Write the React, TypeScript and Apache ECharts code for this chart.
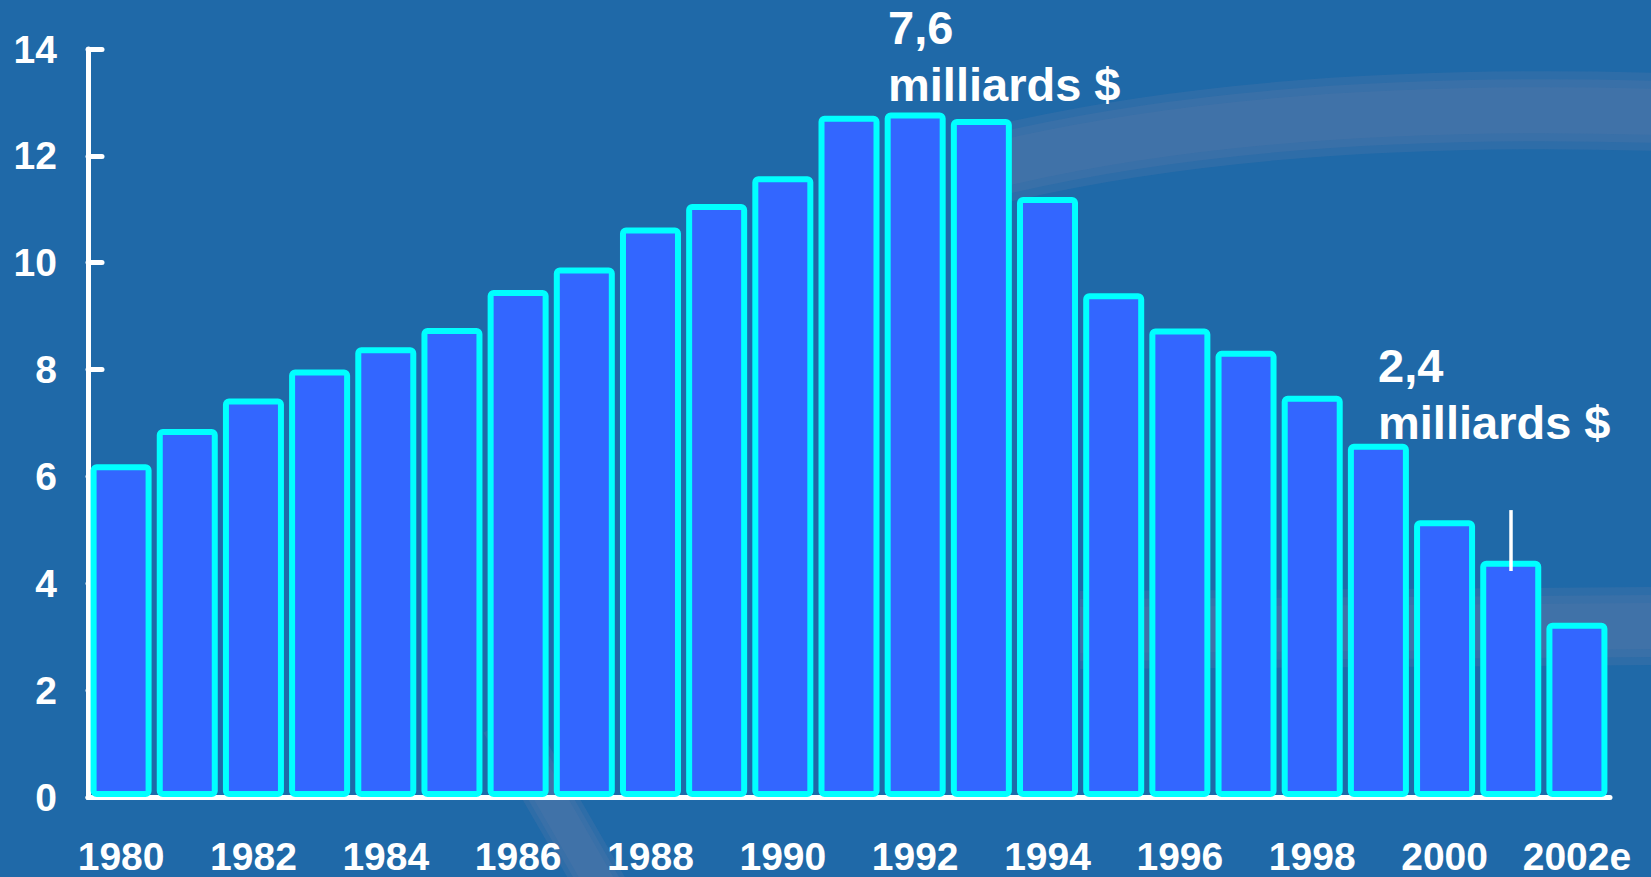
import React, { useEffect, useRef } from "react";
import * as echarts from "echarts";

const categories = [
  "1980", "1981", "1982", "1983", "1984", "1985", "1986", "1987", "1988", "1989",
  "1990", "1991", "1992", "1993", "1994", "1995", "1996", "1997", "1998", "1999",
  "2000", "2001", "2002e",
];
const values = [
  6.23, 6.89, 7.46, 8.0, 8.42, 8.78, 9.49, 9.91, 10.66, 11.1,
  11.62, 12.75, 12.81, 12.69, 11.23, 9.43, 8.77, 8.35, 7.51, 6.61,
  5.18, 4.42, 3.26,
];
const yMin = 0;
const yMax = 14;
const yInterval = 2;
const peakNote = ["7,6", "milliards $"];
const recentNote = ["2,4", "milliards $"];
const markerCategory = "2001";
const markerRange = [4.23, 5.37];

const FONT = '"Liberation Sans", Arial, Helvetica, sans-serif';
const BG = "#1f69a8";

function band(
  p0: [number, number],
  cp: [number, number],
  p1: [number, number],
  widths: number[]
) {
  return widths.map((w) => ({
    type: "bezierCurve",
    silent: true,
    z: 0,
    shape: { x1: p0[0], y1: p0[1], cpx1: cp[0], cpy1: cp[1], x2: p1[0], y2: p1[1] },
    style: { stroke: "rgb(82,118,170)", lineWidth: w, fill: null, opacity: 0.3, lineCap: "butt" },
  }));
}

export default function App() {
  const ref = useRef<HTMLDivElement>(null);
  useEffect(() => {
    if (!ref.current) return;
    const chart = echarts.init(ref.current, null, { renderer: "svg" });
    const bandWidths = [78, 62, 46];
    chart.setOption({
      animation: false,
      backgroundColor: BG,
      grid: { left: 88, right: 41, top: 49, bottom: 80, containLabel: false, outerBoundsMode: "none" },
      xAxis: {
        type: "category",
        data: categories,
        axisLine: { show: true, lineStyle: { color: "#ffffff", width: 5, cap: "round" } },
        axisTick: { show: false },
        axisLabel: {
          interval: 1,
          color: "#ffffff",
          fontFamily: FONT,
          fontWeight: "bold",
          fontSize: 39,
          margin: 40,
        },
        splitLine: { show: false },
      },
      yAxis: {
        type: "value",
        min: yMin,
        max: yMax,
        interval: yInterval,
        axisLine: { show: true, lineStyle: { color: "#ffffff", width: 5, cap: "round" } },
        axisTick: { show: true, inside: true, length: 14, lineStyle: { color: "#ffffff", width: 5, cap: "round" } },
        axisLabel: {
          color: "#ffffff",
          fontFamily: FONT,
          fontWeight: "bold",
          fontSize: 39,
          margin: 31,
        },
        splitLine: { show: false },
      },
      graphic: [
        ...band([975, 170], [1250, 100], [1660, 112], bandWidths),
        ...band([1080, 630], [1350, 628], [1660, 626], bandWidths),
        ...band([505, 720], [555, 805], [612, 905], [50, 40, 30]),
        {
          type: "text",
          x: 888,
          y: -1,
          z: 10,
          style: {
            text: peakNote.join("\n"),
            fill: "#ffffff",
            fontFamily: FONT,
            fontWeight: "bold",
            fontSize: 47,
            lineHeight: 57,
            verticalAlign: "top",
            align: "left",
          },
        },
        {
          type: "text",
          x: 1378,
          y: 337,
          z: 10,
          style: {
            text: recentNote.join("\n"),
            fill: "#ffffff",
            fontFamily: FONT,
            fontWeight: "bold",
            fontSize: 47,
            lineHeight: 57,
            verticalAlign: "top",
            align: "left",
          },
        },
      ],
      series: [
        {
          type: "bar",
          data: values,
          barWidth: 61,
          z: 2,
          itemStyle: {
            color: "#3366ff",
            borderColor: "#00ffff",
            borderWidth: 6,
            borderRadius: 3,
          },
          markLine: {
            silent: true,
            symbol: ["none", "none"],
            label: { show: false },
            lineStyle: { color: "#ffffff", width: 3.5, type: "solid" },
            data: [
              [
                { coord: [markerCategory, markerRange[0]] },
                { coord: [markerCategory, markerRange[1]] },
              ],
            ],
          },
        },
      ],
    });
    return () => chart.dispose();
  }, []);
  return (
    <div
      ref={ref}
      style={{ position: "fixed", left: 0, top: 0, width: 1651, height: 877 }}
    />
  );
}
